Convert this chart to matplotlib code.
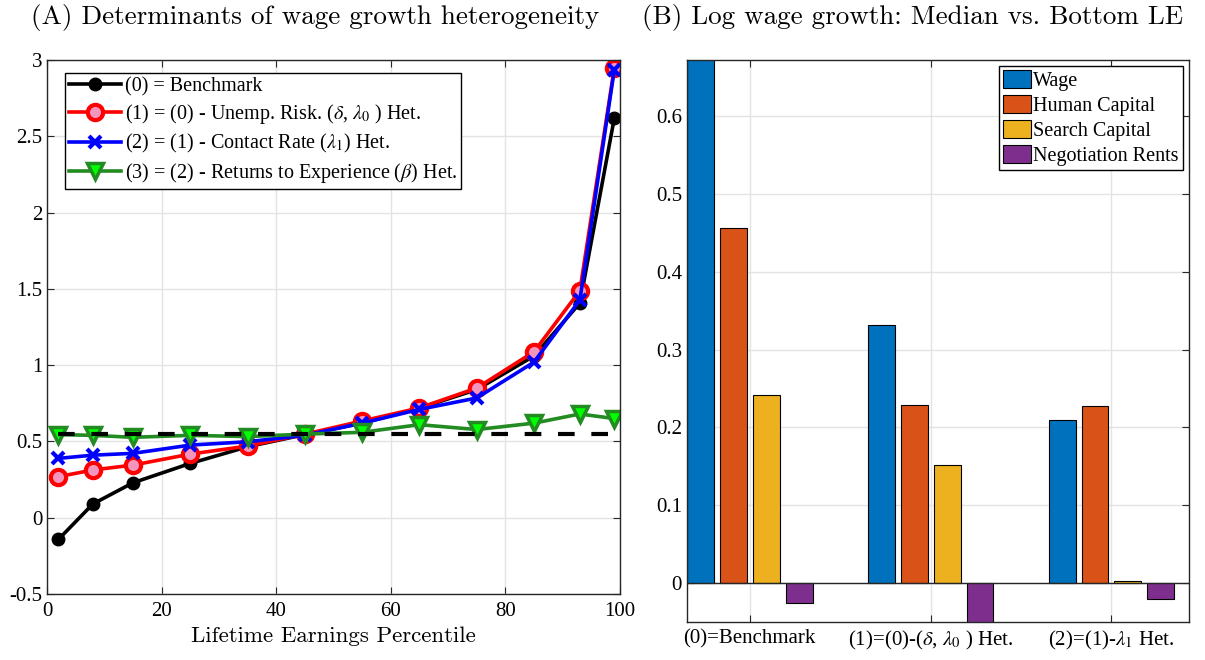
import matplotlib
matplotlib.use("Agg")
import matplotlib.pyplot as plt
import numpy as np
from matplotlib.patches import Patch

plt.rcParams['font.family'] = ['Liberation Serif', 'DejaVu Serif']
plt.rcParams['mathtext.fontset'] = 'stix'
plt.rcParams['axes.unicode_minus'] = False

# ---- Panel A data ----
pctl = [2, 8, 15, 25, 35, 45, 55, 65, 75, 85, 93, 99]
bench = [-0.142, 0.090, 0.229, 0.356, 0.465, 0.545, 0.620, 0.718, 0.840, 1.060, 1.407, 2.617]
no_unemp = [0.269, 0.313, 0.345, 0.417, 0.470, 0.548, 0.634, 0.720, 0.850, 1.088, 1.488, 2.945]
no_contact = [0.389, 0.410, 0.422, 0.476, 0.498, 0.540, 0.620, 0.710, 0.785, 1.020, 1.427, 2.934]
no_returns = [0.545, 0.540, 0.527, 0.540, 0.532, 0.548, 0.560, 0.610, 0.578, 0.620, 0.680, 0.650]
flat_level = 0.548
labels_a = ['(0) = Benchmark',
            r'(1) = (0) - Unemp. Risk. ($\delta$, $\lambda_0$ ) Het.',
            r'(2) = (1) - Contact Rate ($\lambda_1$) Het.',
            r'(3) = (2) - Returns to Experience ($\beta$) Het.']
xticks_a = [0, 20, 40, 60, 80, 100]
yticks_a = [-0.5, 0, 0.5, 1, 1.5, 2, 2.5, 3]
yticklabels_a = ['-0.5', '0', '0.5', '1', '1.5', '2', '2.5', '3']

# ---- Panel B data ----
groups = ['(0)=Benchmark', r'(1)=(0)-($\delta$, $\lambda_0$ ) Het.', r'(2)=(1)-$\lambda_1$ Het.']
components = ['Wage', 'Human Capital', 'Search Capital', 'Negotiation Rents']
wage = [0.80, 0.331, 0.2095]
human = [0.456, 0.229, 0.228]
search = [0.2415, 0.152, 0.003]
rents = [-0.026, -0.055, -0.021]
bar_colors = ['#0072BD', '#D95319', '#EDB120', '#7E2F8E']
yticks_b = [0, 0.1, 0.2, 0.3, 0.4, 0.5, 0.6]

fig = plt.figure(figsize=(12.05, 6.6), dpi=100)
axA = fig.add_axes([0.039, 0.1, 0.4755, 0.809])
axB = fig.add_axes([0.570, 0.0576, 0.4166, 0.8515])

spine_col = '#262626'
grid_col = '#e3e3e3'
fs = 15

# Panel A
axA.set_axisbelow(True)
axA.grid(True, color=grid_col, linewidth=1)
lw = 2.6
h0, = axA.plot(pctl, bench, '-o', color='black', lw=lw, ms=9, mfc='black', mec='black')
h1, = axA.plot(pctl, no_unemp, '-o', color='red', lw=lw, ms=11, mfc='#f495bd', mec='red', mew=3)
h2, = axA.plot(pctl, no_contact, '-x', color='blue', lw=lw, ms=8, mec='blue', mew=3)
h3, = axA.plot(pctl, no_returns, '-v', color='#228B22', lw=lw, ms=11, mfc='#00ff00', mec='#228B22', mew=2.5)
axA.plot([pctl[0], 100], [flat_level, flat_level], '--', color='black', lw=3, dashes=(4, 4), zorder=5)
axA.set_xlim(0, 100)
axA.set_ylim(-0.5, 3)
axA.set_xticks(xticks_a)
axA.set_yticks(yticks_a)
axA.set_yticklabels(yticklabels_a)
axA.set_xlabel('Lifetime Earnings Percentile', fontsize=16.5, family='cmr10', labelpad=4)
axA.set_title('(A) Determinants of wage growth heterogeneity', fontsize=19.5, family='cmr10',
              pad=26, x=0.468)
leg = axA.legend([h0, h1, h2, h3], labels_a, loc='upper left', fontsize=14.5,
                 frameon=True, fancybox=False, edgecolor='black', framealpha=1,
                 handlelength=2.6, handletextpad=0.2, borderpad=0.2, labelspacing=0.3,
                 bbox_to_anchor=(0.013, 0.995))
leg.get_frame().set_linewidth(1.0)

# Panel B
axB.set_axisbelow(True)
axB.grid(True, color=grid_col, linewidth=1)
xg = np.arange(1, len(groups) + 1)
step = 0.182
width = 0.149
series = [wage, human, search, rents]
handles = []
for i, (vals, col) in enumerate(zip(series, bar_colors)):
    axB.bar(xg + (i - 1.5) * step, vals, width=width, color=col, edgecolor='black', linewidth=0.8)
    handles.append(Patch(facecolor=col, edgecolor='black', linewidth=0.8))
axB.axhline(0, color=spine_col, lw=1)
axB.set_xlim(0.652, 3.428)
axB.set_ylim(-0.05, 0.672)
axB.set_xticks(xg)
axB.set_xticklabels(groups)
axB.set_yticks(yticks_b)
axB.set_yticklabels(['0', '0.1', '0.2', '0.3', '0.4', '0.5', '0.6'])
axB.set_title('(B) Log wage growth: Median vs. Bottom LE', fontsize=19.5, family='cmr10',
              pad=26, x=0.45)
legB = axB.legend(handles, components, loc='upper right', fontsize=14.5, frameon=True, fancybox=False,
                  edgecolor='black', framealpha=1, handlelength=1.4, handleheight=1.0,
                  handletextpad=0.1, borderpad=0.2, labelspacing=0.2, borderaxespad=0.3)
legB.get_frame().set_linewidth(1.0)

for ax in (axA, axB):
    for s in ax.spines.values():
        s.set_color(spine_col)
        s.set_linewidth(1)
    ax.tick_params(direction='in', top=True, right=True, labelsize=fs, colors=spine_col,
                   labelcolor='black', length=5)
axA.tick_params(axis='x', pad=6)
axB.tick_params(axis='x', pad=5)

fig.savefig('out.png', dpi=100)
